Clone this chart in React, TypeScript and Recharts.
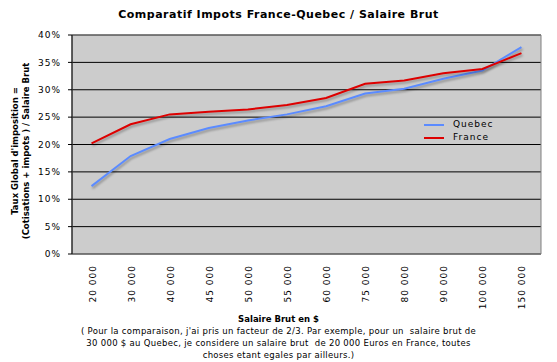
import { LineChart, Line, XAxis, YAxis, CartesianGrid, Legend, ReferenceArea } from 'recharts';

const CATEGORIES = ['20 000', '30 000', '40 000', '45 000', '50 000', '55 000', '60 000', '75 000', '80 000', '90 000', '100 000', '150 000'];
const QUEBEC = [12.4, 17.9, 21.0, 23.0, 24.4, 25.5, 27.0, 29.3, 30.2, 32.0, 33.5, 37.8];
const FRANCE = [20.2, 23.7, 25.5, 26.0, 26.4, 27.2, 28.5, 31.1, 31.7, 33.0, 33.8, 36.7];
const Y_TICKS = [0, 5, 10, 15, 20, 25, 30, 35, 40];
const EDGE_TICKS = CATEGORIES.map((_, i) => i).concat(CATEGORIES.length);

const data = CATEGORIES.map((c, i) => ({ cat: c, idx: i, quebec: QUEBEC[i], france: FRANCE[i] }));

const FONT = 'Verdana, "DejaVu Sans", sans-serif';
const BLUE = '#5b8bff';
const RED = '#dd0000';

const XTick = (props: any) => {
  const { x, y, payload } = props;
  const tx = x + 4;
  const ty = y + 3;
  return (
    <text x={tx} y={ty} transform={`rotate(-90 ${tx} ${ty})`} textAnchor="end"
      fontSize={9} fontFamily={FONT} letterSpacing={1} fill="#000">
      {payload.value}
    </text>
  );
};

const LegendBox = () => (
  <div style={{ fontFamily: FONT, fontSize: 9, letterSpacing: 1, lineHeight: '13px' }}>
    {[{ n: 'Quebec', c: BLUE }, { n: 'France', c: RED }].map(s => (
      <div key={s.n} style={{ display: 'flex', alignItems: 'center' }}>
        <span style={{ display: 'inline-block', width: 20, height: 2, background: s.c, marginRight: 9 }} />
        <span>{s.n}</span>
      </div>
    ))}
  </div>
);

const App = () => {
  return (
    <div style={{ position: 'absolute', left: 0, top: 0, width: 557, height: 362, background: '#fff', fontFamily: FONT }}>
      <div style={{ position: 'absolute', left: 0, width: 557, top: 8, textAlign: 'center', fontWeight: 'bold', fontSize: 11, letterSpacing: 0.5 }}>
        Comparatif Impots France-Quebec / Salaire Brut
      </div>
      <div style={{ position: 'absolute', left: 21, top: 151, width: 0, height: 0 }}>
        <div style={{
          position: 'absolute', transform: 'translate(-50%, -50%) rotate(-90deg)', whiteSpace: 'nowrap',
          textAlign: 'center', fontWeight: 'bold', fontSize: 8.5, lineHeight: '11px'
        }}>
          Taux Global d'imposition =<br />(Cotisations + impots ) / Salaire Brut
        </div>
      </div>
      <LineChart width={557} height={362} data={data} margin={{ top: 35, right: 16, bottom: 48, left: 32 }}>
        <CartesianGrid vertical={false} stroke="#000" fill="#cccccc" fillOpacity={1} />
        <ReferenceArea y1={0} y2={40} fill="none" stroke="#808080" strokeWidth={1} ifOverflow="visible" />
        <XAxis xAxisId="edge" type="number" dataKey="idx" domain={[0, CATEGORIES.length]} ticks={EDGE_TICKS}
          interval={0} height={0} tickSize={4} tickFormatter={() => ''} axisLine={{ stroke: '#000' }} tickLine={{ stroke: '#000' }} />
        <XAxis dataKey="cat" scale="band" interval={0} height={60} tickLine={false} axisLine={false} tick={<XTick />} />
        <YAxis domain={[0, 40]} ticks={Y_TICKS} width={40} tickSize={4} tickMargin={7} interval={0}
          tickFormatter={(v: number) => `${v}%`} axisLine={{ stroke: '#000' }} tickLine={{ stroke: '#000' }}
          tick={{ fontSize: 9, fontFamily: FONT, fill: '#000', letterSpacing: 1 }} />
        <Legend layout="vertical" align="center" verticalAlign="middle" content={<LegendBox />}
          wrapperStyle={{ left: 424, top: 118, width: 'auto' }} />
        <Line dataKey="quebec" name="Quebec" stroke={BLUE} strokeWidth={2} dot={false} isAnimationActive={false}
          style={{ filter: 'drop-shadow(1px 2px 1px rgba(0,0,0,0.3))' }} />
        <Line dataKey="france" name="France" stroke={RED} strokeWidth={2} dot={false} isAnimationActive={false}
          style={{ filter: 'drop-shadow(1px 2px 1px rgba(0,0,0,0.3))' }} />
      </LineChart>
      <div style={{ position: 'absolute', left: 0, width: 557, top: 313, textAlign: 'center', fontSize: 8.5, lineHeight: '12px' }}>
        <div style={{ fontWeight: 'bold' }}>Salaire Brut en $</div>
        <div style={{ letterSpacing: 0.3 }}>( Pour la comparaison, j'ai pris un facteur de 2/3. Par exemple, pour un&nbsp; salaire brut de</div>
        <div style={{ letterSpacing: 0.3 }}>30 000 $ au Quebec, je considere un salaire brut&nbsp; de 20 000 Euros en France, toutes</div>
        <div style={{ letterSpacing: 0.3 }}>choses etant egales par ailleurs.)</div>
      </div>
    </div>
  );
};

export default App;
